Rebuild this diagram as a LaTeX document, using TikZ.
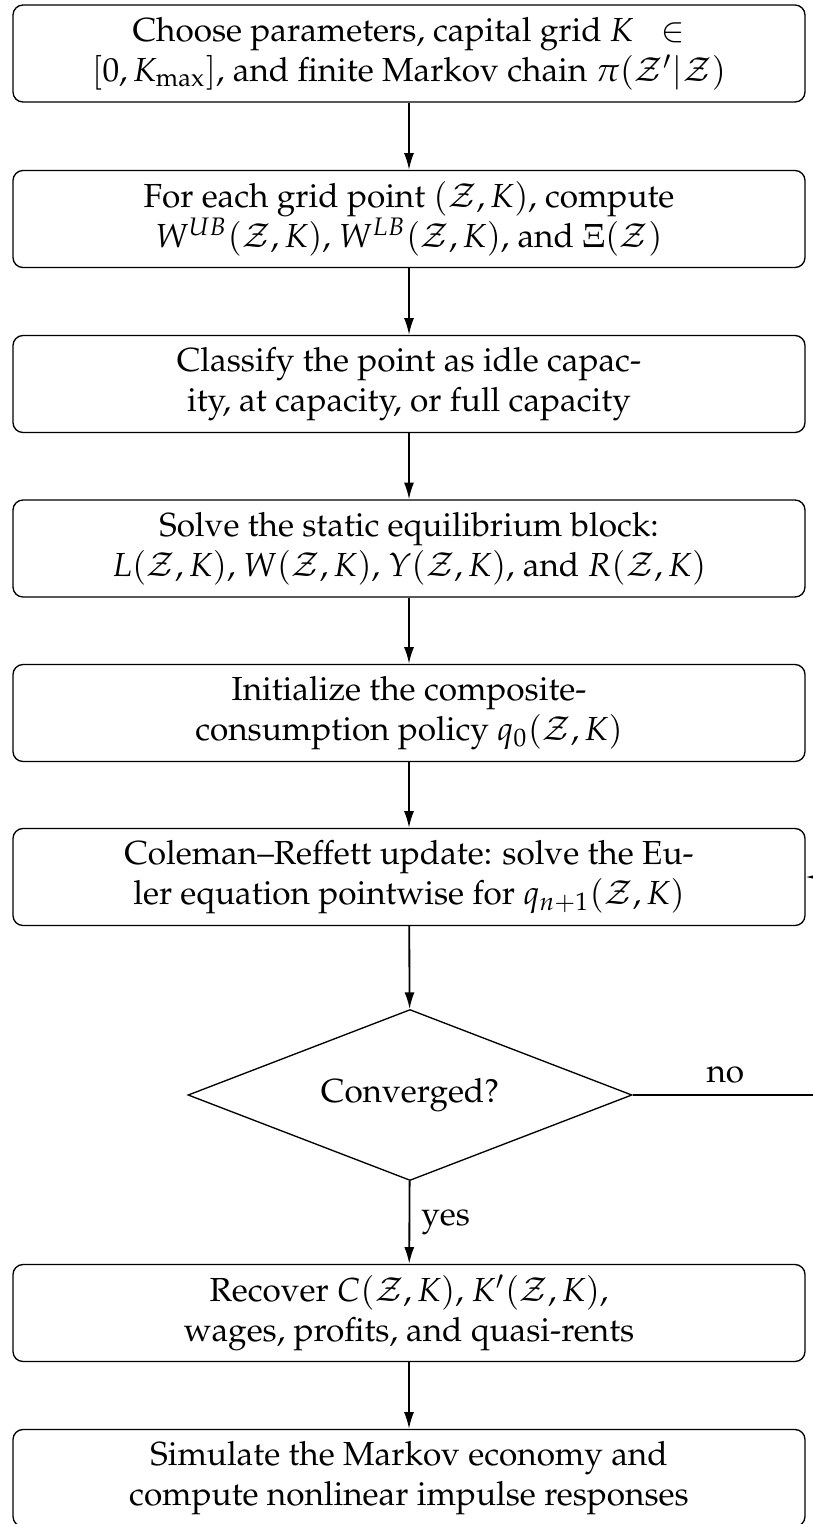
\documentclass[tikz,border=0pt]{standalone}
\usepackage[T1]{fontenc}
\usepackage{mathpazo}
\usetikzlibrary{shapes.geometric,arrows.meta}

\begin{document}
\begin{tikzpicture}[x=0.3pt,y=-0.3pt,
    box/.style={draw,rounded corners=3pt,align=center,
      minimum width=237.6pt,minimum height=29.1pt,inner sep=0pt},
    decision/.style={draw,diamond,aspect=2.6,
      minimum width=133.2pt,minimum height=51.3pt,inner sep=0pt},
    conn/.style={draw,line width=.55pt,-{Latex[length=5pt,width=3pt]}}]

        \useasboundingbox (0,0) rectangle (813,1524);

        \begin{scope}[every node/.style={box}]
          \node (1) at (409,53.5) {Choose parameters, capital grid $K\;\;\in$\\
            $[0,K_{\max}]$, and finite Markov chain $\pi(\mathcal{Z}'|\mathcal{Z})$};
          \node (2) at (409,219) {For each grid point $(\mathcal{Z},K)$, compute\\
            $W^{UB}(\mathcal{Z},K)$, $W^{LB}(\mathcal{Z},K)$, and $\Xi(\mathcal{Z})$};
          \node (3) at (409,384) {Classify the point as idle capac-\\
            ity, at capacity, or full capacity};
          \node (4) at (409,548.5) {Solve the static equilibrium block:\\
            $L(\mathcal{Z},K)$, $W(\mathcal{Z},K)$, $Y(\mathcal{Z},K)$, and $R(\mathcal{Z},K)$};
          \node (5) at (409,713) {Initialize the composite-\\
            consumption policy $q_0(\mathcal{Z},K)$};
          \node (6) at (409,877) {Coleman--Reffett update: solve the Eu-\\
            ler equation pointwise for $q_{n+1}(\mathcal{Z},K)$};
          \node (8) at (409,1313) {Recover $C(\mathcal{Z},K)$, $K'(\mathcal{Z},K)$,\\
            wages, profits, and quasi-rents};
          \node (9) at (409,1478) {Simulate the Markov economy and\\
            compute nonlinear impulse responses};
        \end{scope}

        \node[decision] (7) at (410,1095) {Converged?};
        \coordinate (r) at (818,877);

        \begin{scope}[every edge/.style={conn}]
          \path (1) edge (2);
          \path (2) edge (3);
          \path (3) edge (4);
          \path (4) edge (5);
          \path (5) edge (6);
          \path (6) edge (7);
          \path (7) edge node[right] {yes} (8);
          \path (8) edge (9);
        \end{scope}
        \draw[conn] (7.east) -| node[pos=.25,above] {no} (r) -- (6.east);

      \end{tikzpicture}
\end{document}
